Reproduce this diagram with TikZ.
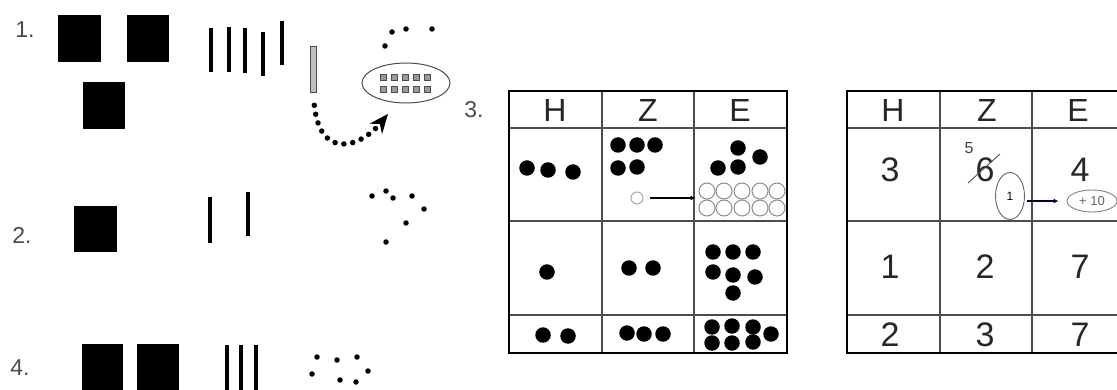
\documentclass[tikz,border=0pt]{standalone}
\usepackage{fontspec}
\setmainfont{Liberation Sans}
\usetikzlibrary{arrows.meta,shapes.geometric}

\begin{document}
\begin{tikzpicture}[x=1pt,y=-1pt,
  lbl/.style={text=black!70,font=\fontsize{23}{26}\selectfont},
  colhead/.style={text=black!85,font=\fontsize{32}{36}\selectfont},
  num/.style={text=black!85,font=\fontsize{34}{38}\selectfont},
  stick/.style={line width=4.5pt},
  spot/.style={circle,fill=black,inner sep=0pt,minimum size=5.5pt},
  cube/.style={rectangle,draw=black!70,fill=black!40,line width=0.6pt,inner sep=0pt,minimum size=6pt},
  bead/.style={circle,fill=black,inner sep=0pt,minimum size=15.5pt},
  ring/.style={circle,draw=black!45,line width=1pt,inner sep=0pt,minimum size=16pt},
  rule/.style={draw=black!70,line width=2.6pt},
  tabframe/.style={draw=black,line width=2pt}]
\useasboundingbox (0,0) rectangle (1117,390);

% numbering
\node[lbl] (l1) at (25,30) {1.};
\node[lbl] (l2) at (22,235) {2.};
\node[lbl] (l3) at (474,110) {3.};
\node[lbl] (l4) at (20,368) {4.};

% 1. hundreds, tens, ones
\fill (58,15) rectangle (101,62);
\fill (127,15) rectangle (169,62);
\fill (83,82) rectangle (125,129);
\foreach \x/\a/\b in {211/28/72,229/27/72,245/28/73,263/32/76,282/21/65}
  \draw[stick] (\x,\a) -- (\x,\b);
\node[draw=black!70,fill=black!25,line width=0.8pt,minimum width=6pt,minimum height=46pt,inner sep=0pt] (ten) at (313,69) {};
\foreach \x/\y [count=\i] in {392/32,406/29,432/29,385/46}
  \node[spot] (a\i) at (\x,\y) {};
\node[ellipse,draw=black!70,line width=1pt,minimum width=88pt,minimum height=40pt] (bundle) at (406,83) {};
\foreach \x [count=\i] in {383,394,405,416,427} {
  \node[cube] (qa\i) at (\x,77) {};
  \node[cube] (qb\i) at (\x,89) {};
}
\coordinate (tip) at (388,114);
\draw[line width=5.5pt,line cap=round,dash pattern=on 0pt off 9pt,shorten <=13pt,
  -{Stealth[length=19pt,width=16pt]}] (ten.south) .. controls (320,160) and (360,148) .. (tip);

% 2.
\fill (74,206) rectangle (117,252);
\draw[stick] (210,197) -- (210,243);
\draw[stick] (248,192) -- (248,236);
\foreach \x/\y [count=\i] in {372/196,386/191,393/198,412/196,424/209,406/223,386/242}
  \node[spot] (b\i) at (\x,\y) {};

% 4.
\fill (82,344) rectangle (123,395);
\fill (137,344) rectangle (179,395);
\foreach \x in {227,241,256}
  \draw[stick] (\x,345) -- (\x,395);
\foreach \x/\y [count=\i] in {317/357,337/360,357/357,312/374,368/371,340/380,356/382}
  \node[spot] (d\i) at (\x,\y) {};

% 3. place value table with counters
\foreach \x in {602,694} \draw[rule] (\x,91) -- (\x,353);
\foreach \y in {128,221,315} \draw[rule] (509,\y) -- (787,\y);
\draw[tabframe] (509,91) rectangle (787,353);
\foreach \t/\x [count=\i] in {H/555,Z/648,E/740}
  \node[colhead] (ha\i) at (\x,110) {\t};
\foreach \x/\y [count=\i] in {527/168,548/170,573/172,
    618/145,637/145,655/145,618/168,637/167,
    738/148,760/157,718/168,738/167,
    547/272,629/268,653/268,
    713/252,733/252,753/252,713/272,733/275,755/277,733/293,
    543/335,568/336,627/333,644/334,663/334,
    712/327,732/326,753/327,771/334,712/343,732/343,753/342}
  \node[bead] (p\i) at (\x,\y) {};
\node[ring,draw=black!35,minimum size=12pt] (one) at (637,198) {};
\foreach \x [count=\i] in {707,724,742,760,777} {
  \node[ring] (ca\i) at (\x,191) {};
  \node[ring] (cb\i) at (\x,208) {};
}
\draw[line width=1.4pt,shorten <=6pt,shorten >=3pt,-{Latex[length=5pt,width=5pt]}] (one) -- (one -| ca1.west);

% the same with digits
\foreach \x in {940,1032} \draw[rule] (\x,91) -- (\x,353);
\foreach \y in {128,221,315} \draw[rule] (847,\y) -- (1125,\y);
\draw[tabframe] (847,91) rectangle (1125,353);
\foreach \t/\x [count=\i] in {H/893,Z/987,E/1078}
  \node[colhead] (hb\i) at (\x,110) {\t};
\node[num] (n11) at (890,170) {3};
\node[num] (six) at (985,170) {6};
\node[num] (n13) at (1080,170) {4};
\node[num] (n21) at (890,267) {1};
\node[num] (n22) at (985,267) {2};
\node[num] (n23) at (1080,267) {7};
\node[num] (n31) at (890,335) {2};
\node[num] (n32) at (985,335) {3};
\node[num] (n33) at (1080,335) {7};
\node[text=black!75,font=\fontsize{16}{18}\selectfont] (five) at (969,148) {5};
\draw[black!70,line width=0.9pt] ([shift={(-17,13)}]six.center) -- ([shift={(15,-16)}]six.center);
\node[ellipse,draw=black!60,line width=0.9pt,minimum width=29pt,minimum height=47pt,inner sep=0pt,
  font=\fontsize{12}{13}\selectfont] (carry) at (1010,196) {1};
\node[ellipse,draw=black!50,line width=0.9pt,minimum width=50pt,minimum height=22pt,inner sep=0pt,
  text=black!60,font=\fontsize{13}{14}\selectfont] (plusten) at (1092,201) {+ 10};
\draw[blue!25!black,line width=1.4pt,shorten <=2pt,shorten >=8pt,-{Latex[length=5pt,width=5pt]}]
  (carry.east |- plusten.west) -- (plusten.west);
\end{tikzpicture}
\end{document}
